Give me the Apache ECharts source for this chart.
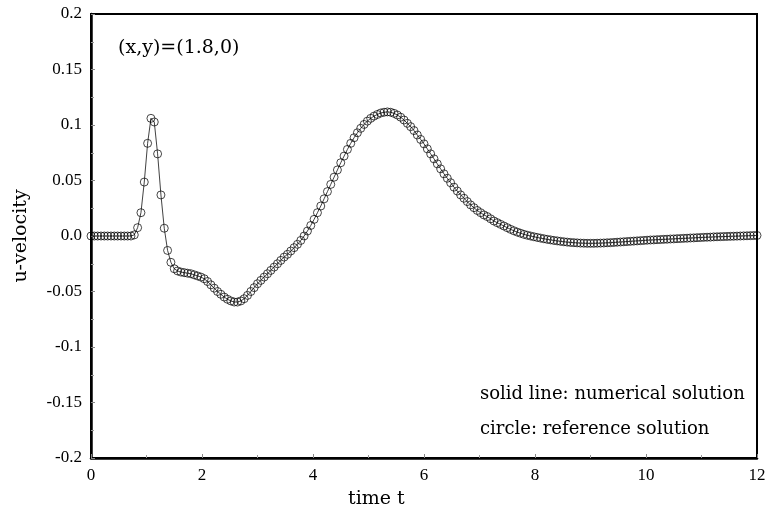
<!DOCTYPE html>
<html>
<head>
<meta charset="utf-8">
<script src="https://cdn.jsdelivr.net/npm/echarts@6/dist/echarts.min.js"></script>
<style>
  html, body { margin: 0; padding: 0; background: #fff; }
  #chart { width: 769px; height: 514px; }
</style>
</head>
<body>
<div id="chart"></div>
<script>
// sample step of the time series (t = 0, 0.06, ..., 12)
var dt = 0.06;

// u-velocity at (x,y)=(1.8,0), one row = 10 samples
var uVelocity = [
  0, 0, 0, 0, 0, 0, 0, 0, 0, 0,                                                   // 0.00
  0, 0, 0, 0.001, 0.0075, 0.021, 0.0486, 0.0835, 0.106, 0.1027,                   // 0.60
  0.074, 0.037, 0.007, -0.013, -0.0237, -0.0295, -0.0315, -0.0325, -0.033, -0.0335, // 1.20
  -0.034, -0.035, -0.036, -0.037, -0.0385, -0.041, -0.044, -0.047, -0.050, -0.0525, // 1.80
  -0.055, -0.057, -0.0585, -0.0595, -0.0595, -0.0585, -0.0565, -0.0535, -0.050, -0.0465, // 2.40
  -0.043, -0.040, -0.037, -0.034, -0.031, -0.028, -0.025, -0.022, -0.019, -0.0165, // 3.00
  -0.0135, -0.0105, -0.0075, -0.004, 0.0, 0.0045, 0.0095, 0.015, 0.021, 0.027,    // 3.60
  0.0335, 0.040, 0.0465, 0.053, 0.0595, 0.066, 0.072, 0.078, 0.0835, 0.0885,      // 4.20
  0.093, 0.097, 0.1005, 0.1035, 0.106, 0.108, 0.1095, 0.1108, 0.1115, 0.1118,     // 4.80
  0.1115, 0.1105, 0.109, 0.107, 0.1045, 0.1015, 0.0985, 0.095, 0.091, 0.087,      // 5.40
  0.083, 0.0785, 0.074, 0.0695, 0.065, 0.0605, 0.056, 0.052, 0.048, 0.044,        // 6.00
  0.0405, 0.037, 0.034, 0.031, 0.028, 0.0255, 0.023, 0.021, 0.019, 0.0175,        // 6.60
  0.0155, 0.0135, 0.012, 0.0105, 0.009, 0.0075, 0.006, 0.0047, 0.0035, 0.0025,    // 7.20
  0.0015, 0.0007, 0.0, -0.0007, -0.0013, -0.0019, -0.0025, -0.003, -0.0035, -0.004, // 7.80
  -0.0044, -0.0048, -0.0052, -0.0055, -0.0058, -0.006, -0.0062, -0.0064, -0.0065, -0.0066, // 8.40
  -0.0066, -0.0066, -0.0065, -0.0064, -0.0063, -0.0061, -0.006, -0.0058, -0.0056, -0.0054, // 9.00
  -0.0052, -0.005, -0.0048, -0.0046, -0.0044, -0.0042, -0.004, -0.0038, -0.0036, -0.0035, // 9.60
  -0.0033, -0.0032, -0.003, -0.0029, -0.0027, -0.0026, -0.0024, -0.0023, -0.0021, -0.002, // 10.20
  -0.0018, -0.0017, -0.0015, -0.0014, -0.0012, -0.0011, -0.001, -0.0008, -0.0007, -0.0006, // 10.80
  -0.0005, -0.0004, -0.0003, -0.0002, -0.0001, 0, 0.0001, 0.0002, 0.0003, 0.0004, // 11.40
  0.0005                                                                           // 12.00
];

var xTicks = [0, 2, 4, 6, 8, 10, 12];
var yTickLabels = ['-0.2', '-0.15', '-0.1', '-0.05', '0.0', '0.05', '0.1', '0.15', '0.2'];

var pts = uVelocity.map(function (v, i) {
  return [+(i * dt).toFixed(2), v];
});

var numFont = 'Liberation Serif';
var txtFont = '"DejaVu Serif"';

var chart = echarts.init(document.getElementById('chart'));
chart.setOption({
  backgroundColor: '#fff',
  animation: false,
  grid: {
    left: 91, right: 12, top: 14, bottom: 56,
    show: true,
    borderColor: '#000',
    borderWidth: 2,
    backgroundColor: 'transparent'
  },
  xAxis: {
    type: 'value',
    min: xTicks[0],
    max: xTicks[xTicks.length - 1],
    interval: 2,
    axisLine: { show: true, onZero: false, lineStyle: { color: '#000', width: 2.5 } },
    axisTick: { inside: true, length: 4, lineStyle: { color: '#888', width: 1 } },
    minorTick: { show: true, splitNumber: 2, length: 3, lineStyle: { color: '#999', width: 1 } },
    splitLine: { show: false },
    axisLabel: { fontFamily: numFont, fontSize: 17, color: '#000', margin: 9 }
  },
  yAxis: {
    type: 'value',
    min: -0.2,
    max: 0.2,
    interval: 0.05,
    name: 'u-velocity',
    nameLocation: 'middle',
    nameRotate: 90,
    nameGap: 60,
    nameTextStyle: { fontFamily: 'DejaVu Serif', fontSize: 19, color: '#000' },
    axisLine: { show: true, onZero: false, lineStyle: { color: '#000', width: 2.5 } },
    axisTick: { inside: true, length: 4, lineStyle: { color: '#888', width: 1 } },
    minorTick: { show: true, splitNumber: 2, length: 3, lineStyle: { color: '#999', width: 1 } },
    splitLine: { show: false },
    axisLabel: {
      fontFamily: numFont, fontSize: 17, color: '#000', margin: 9,
      formatter: function (v) {
        return yTickLabels[Math.round((v + 0.2) / 0.05)];
      }
    }
  },
  series: [
    {
      name: 'numerical',
      type: 'line',
      data: pts,
      showSymbol: false,
      symbol: 'none',
      lineStyle: { color: '#111', width: 0.8 },
      z: 2
    },
    {
      name: 'reference',
      type: 'scatter',
      data: pts,
      symbol: 'circle',
      symbolSize: 8,
      itemStyle: { color: 'rgba(0,0,0,0)', borderColor: '#000', borderWidth: 0.9 },
      z: 3
    }
  ],
  graphic: [
    {
      type: 'text', left: 118, top: 39,
      style: { text: '(x,y)=(1.8,0)', font: '19px ' + txtFont, fill: '#000' }
    },
    {
      type: 'text', left: 480, top: 385,
      style: { text: 'solid line: numerical solution', font: '18px ' + txtFont, fill: '#000' }
    },
    {
      type: 'text', left: 480, top: 420,
      style: { text: 'circle: reference solution', font: '18px ' + txtFont, fill: '#000' }
    },
    {
      type: 'text', left: 348, top: 490,
      style: { text: 'time t', font: '19px ' + txtFont, fill: '#000' }
    }
  ]
});
</script>
</body>
</html>
